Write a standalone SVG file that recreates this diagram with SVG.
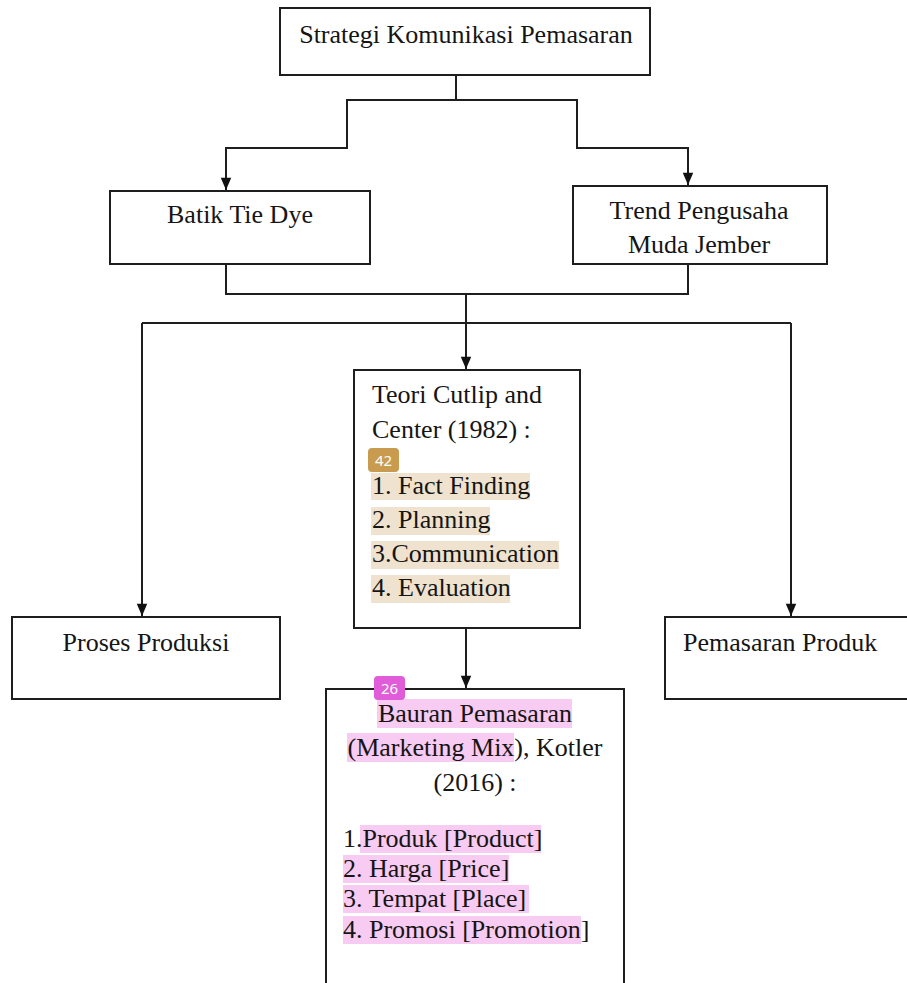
<svg xmlns="http://www.w3.org/2000/svg" width="907" height="983" viewBox="0 0 907 983">
<style>
.box{fill:#fff;stroke:#1e1e1e;stroke-width:2}
.t{font-family:"Liberation Serif","Times New Roman",serif;font-size:26px;fill:#151515}
.c{text-anchor:middle}
.conn{fill:none;stroke:#1e1e1e;stroke-width:2}
.hlT{fill:#EFE2CE}
.hlP{fill:#F7CBF2}
.badge{font-family:"Noto Sans","Open Sans",sans-serif;font-size:15px;fill:#fff;text-anchor:middle}
</style>
<defs>
<marker id="arr" markerUnits="userSpaceOnUse" markerWidth="14" markerHeight="16" viewBox="0 0 14 16" refX="7" refY="15" orient="auto-start-reverse">
<path d="M1 1 L13 1 L7 15 Z" fill="#111" transform="rotate(0)"/>
</marker>
<marker id="arrd" markerUnits="userSpaceOnUse" markerWidth="14" markerHeight="16" viewBox="0 0 16 14" refX="15" refY="7" orient="auto">
<path d="M1 1 L15 7 L1 13 Z" fill="#111"/>
</marker>
</defs>

<g id="connectors">
<path class="conn" d="M456 75 V100 H347 V148 H226 V190" marker-end="url(#arrd)"/>
<path class="conn" d="M456 100 H577 V148 H688 V185" marker-end="url(#arrd)"/>
<path class="conn" d="M226 264 V294 H688 V264"/>
<path class="conn" d="M466 294 V369" marker-end="url(#arrd)"/>
<path class="conn" d="M142 323 H791"/>
<path class="conn" d="M142 323 V616" marker-end="url(#arrd)"/>
<path class="conn" d="M791 323 V616" marker-end="url(#arrd)"/>
<path class="conn" d="M466 628 V688" marker-end="url(#arrd)"/>
</g>

<g id="node-strategi">
<rect class="box" x="280" y="8" width="370" height="67"/>
<text class="t c" x="466" y="43">Strategi Komunikasi Pemasaran</text>
</g>

<g id="node-batik">
<rect class="box" x="110" y="191" width="260" height="73"/>
<text class="t c" x="240" y="223">Batik Tie Dye</text>
</g>

<g id="node-trend">
<rect class="box" x="573" y="186" width="254" height="78"/>
<text class="t c" x="699" y="219">Trend Pengusaha</text>
<text class="t c" x="699" y="253">Muda Jember</text>
</g>

<g id="node-teori">
<rect class="box" x="354" y="370" width="226" height="258"/>
<text class="t" x="372" y="403">Teori Cutlip and</text>
<text class="t" x="372" y="438">Center (1982) :</text>
<rect x="368" y="448" width="31" height="24" rx="4" fill="#C89B4E"/>
<text class="badge" x="383.5" y="466">42</text>
<rect class="hlT" x="371" y="473" width="159" height="27"/>
<rect class="hlT" x="371" y="507" width="119" height="28"/>
<rect class="hlT" x="371" y="541" width="188" height="28"/>
<rect class="hlT" x="371" y="575" width="139" height="28"/>
<text class="t" x="372" y="494">1. Fact Finding</text>
<text class="t" x="372" y="528">2. Planning</text>
<text class="t" x="372" y="562">3.Communication</text>
<text class="t" x="372" y="596">4. Evaluation</text>
</g>

<g id="node-proses">
<rect class="box" x="12" y="617" width="268" height="82"/>
<text class="t c" x="146" y="651">Proses Produksi</text>
</g>

<g id="node-pemasaran">
<rect class="box" x="665" y="617" width="250" height="82"/>
<text class="t" x="683" y="651">Pemasaran Produk</text>
</g>

<g id="node-bauran">
<rect class="box" x="326" y="689" width="298" height="310"/>
<rect class="hlP" x="377" y="699" width="195" height="29"/>
<rect class="hlP" x="347" y="733" width="167" height="29"/>
<rect class="hlP" x="360" y="825" width="181" height="28"/>
<rect class="hlP" x="343" y="855" width="166" height="28"/>
<rect class="hlP" x="343" y="885" width="186" height="28"/>
<rect class="hlP" x="343" y="916" width="238" height="28"/>
<rect x="374" y="676" width="31" height="24" rx="4" fill="#E05CD8"/>
<text class="badge" x="389.5" y="694">26</text>
<text class="t c" x="475" y="722">Bauran Pemasaran</text>
<text class="t c" x="475" y="756">(Marketing Mix), Kotler</text>
<text class="t c" x="475" y="791">(2016) :</text>
<text class="t" x="343" y="847">1.Produk [Product]</text>
<text class="t" x="343" y="877">2. Harga [Price]</text>
<text class="t" x="343" y="907">3. Tempat [Place]</text>
<text class="t" x="343" y="938">4. Promosi [Promotion]</text>
</g>
</svg>
